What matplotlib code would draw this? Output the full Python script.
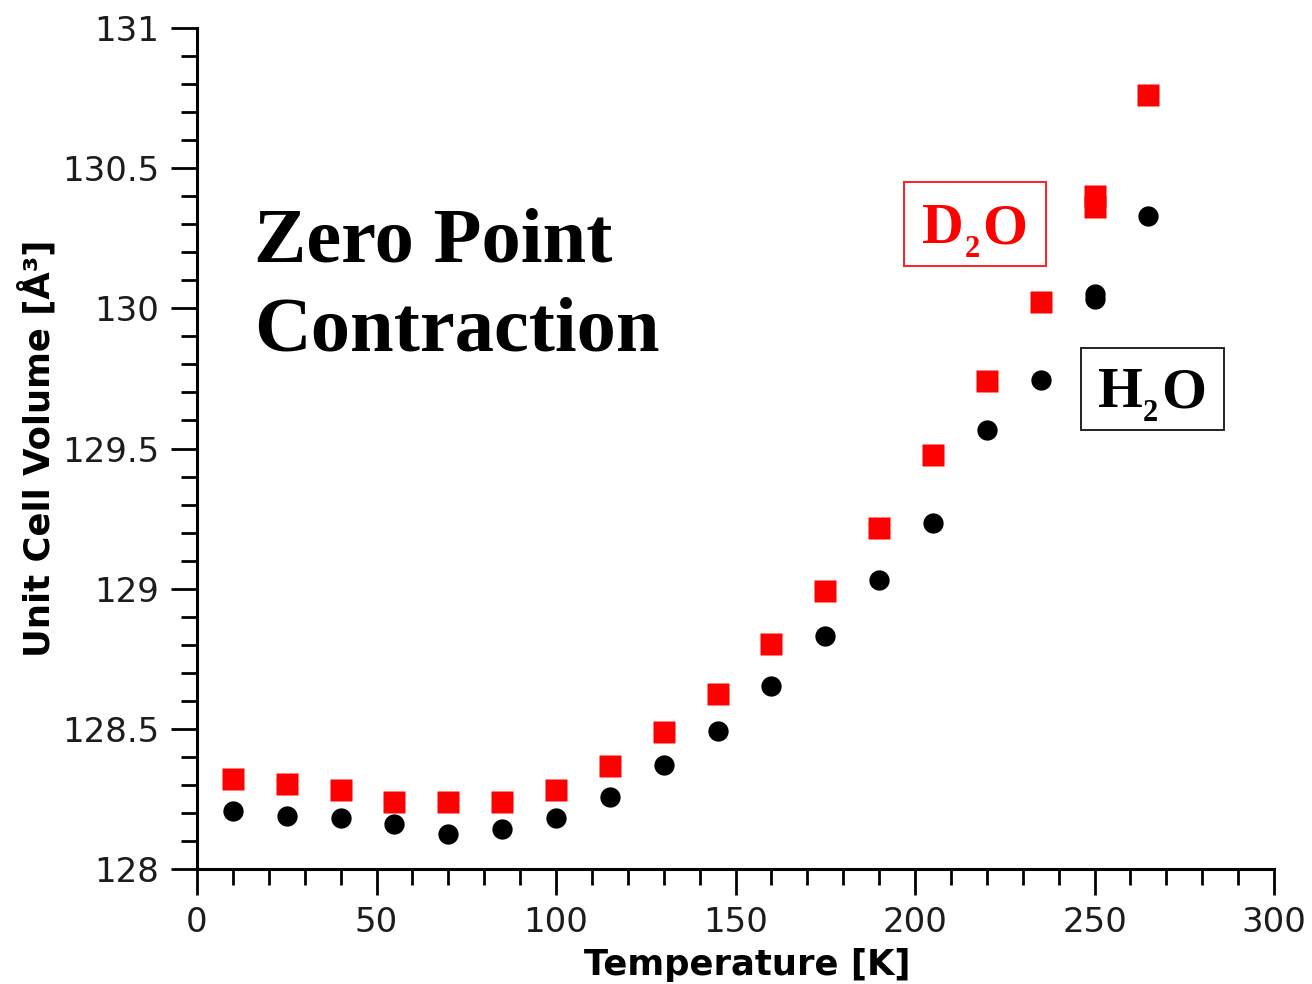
import matplotlib
matplotlib.use("Agg")
import matplotlib.pyplot as plt
from matplotlib.patches import Rectangle
from matplotlib.ticker import MultipleLocator

# Unit cell volume of ice (Å^3) versus temperature (K)
temp_h2o = [10, 25, 40, 55, 70, 85, 100, 115, 130, 145, 160, 175, 190, 205,
            220, 235, 250, 250, 265]
vol_h2o = [128.207, 128.189, 128.182, 128.161, 128.125, 128.143, 128.182,
           128.257, 128.371, 128.492, 128.653, 128.831, 129.031, 129.234,
           129.566, 129.744, 130.050, 130.035, 130.329]

temp_d2o = [10, 25, 40, 55, 70, 85, 100, 115, 130, 145, 160, 175, 190, 205,
            220, 235, 250, 250, 265]
vol_d2o = [128.321, 128.303, 128.282, 128.239, 128.239, 128.239, 128.282,
           128.367, 128.489, 128.624, 128.803, 128.992, 129.216, 129.477,
           129.741, 130.023, 130.399, 130.360, 130.761]

x_ticks = [0, 50, 100, 150, 200, 250, 300]
y_ticks = [128, 128.5, 129, 129.5, 130, 130.5, 131]
y_tick_labels = ["128", "128.5", "129", "129.5", "130", "130.5", "131"]

W, H = 1312, 984
AX_L, AX_R, AX_T, AX_B = 197, 1274, 28, 869


def ax_x(px):
    return (px - AX_L) / (AX_R - AX_L)


def ax_y(py):
    return (AX_B - py) / (AX_B - AX_T)


fig = plt.figure(figsize=(W / 100, H / 100), dpi=100)
ax = fig.add_axes([AX_L / W, 1 - AX_B / H, (AX_R - AX_L) / W,
                   (AX_B - AX_T) / H])

ax.plot(temp_d2o, vol_d2o, linestyle="none", marker="s", ms=16.5,
        color="#ff0000", mec="none", clip_on=False, zorder=3)
ax.plot(temp_h2o, vol_h2o, linestyle="none", marker="o", ms=14.6,
        color="black", mec="none", clip_on=False, zorder=4)

ax.set_xlim(0, 300)
ax.set_ylim(128, 131)

for side in ("top", "right"):
    ax.spines[side].set_visible(False)
for side in ("left", "bottom"):
    ax.spines[side].set_linewidth(2.2)

ax.set_xticks(x_ticks)
ax.set_yticks(y_ticks)
ax.set_yticklabels(y_tick_labels)
ax.xaxis.set_minor_locator(MultipleLocator(10))
ax.yaxis.set_minor_locator(MultipleLocator(0.1))
ax.tick_params(which="major", direction="out", length=19, width=2.0,
               labelsize=24.5, labelcolor="#1c1c1c", pad=8)
ax.tick_params(which="minor", direction="out", length=11.5, width=2.0)

ax.set_xlabel("Temperature [K]", fontsize=25.5, fontweight="bold",
              va="center")
ax.xaxis.set_label_coords(0.511, ax_y(965))
ax.set_ylabel("Unit Cell Volume [Å³]", fontsize=25.5, fontweight="bold",
              va="center")
ax.yaxis.set_label_coords(ax_x(37), 0.5)

# Title text block
title_kw = dict(transform=ax.transAxes, family="Liberation Serif",
                fontweight="bold", fontsize=56.5, color="black",
                ha="left", va="baseline")
ax.text(ax_x(254), ax_y(262), "Zero Point", **title_kw)
ax.text(ax_x(254), ax_y(350), "Contraction", **title_kw)


def formula(letter, left, right, base, sub_base, color):
    kw = dict(transform=ax.transAxes, family="Liberation Serif",
              fontweight="bold", color=color, ha="left", va="baseline")
    ax.text(ax_x(left[0]), ax_y(base), letter, fontsize=41.5, **kw)
    ax.text(ax_x(left[1]), ax_y(sub_base), "2", fontsize=22, **kw)
    ax.text(ax_x(right), ax_y(base), "O", fontsize=41.5, **kw)


# Series labels in boxes
ax.add_patch(Rectangle((ax_x(904), ax_y(266)), ax_x(1046) - ax_x(904),
                       ax_y(182) - ax_y(266), transform=ax.transAxes,
                       fill=False, ec="#ff2020", lw=1.4, clip_on=False))
formula("D", (922, 965), 982, 243, 257, "#ff0000")

ax.add_patch(Rectangle((ax_x(1081), ax_y(430)), ax_x(1224) - ax_x(1081),
                       ax_y(348) - ax_y(430), transform=ax.transAxes,
                       fill=False, ec="#222222", lw=1.4, clip_on=False))
formula("H", (1098, 1143), 1161, 407, 421, "black")

fig.savefig("out.png", dpi=100, facecolor="white")
